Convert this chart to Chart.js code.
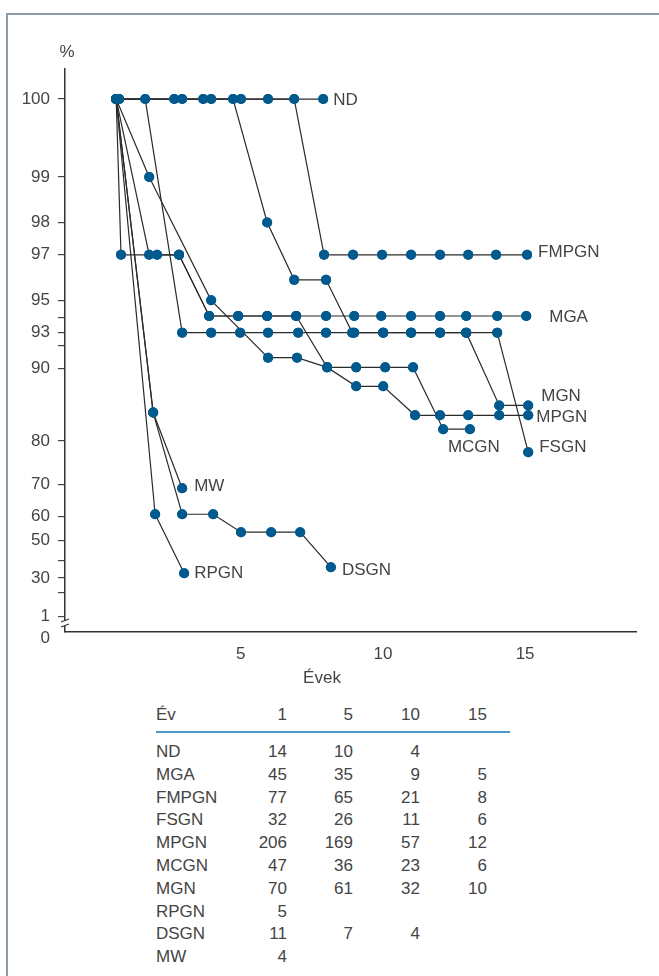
<!DOCTYPE html>
<html><head><meta charset="utf-8">
<script src="https://cdn.jsdelivr.net/npm/chart.js@4/dist/chart.umd.min.js"></script>
<style>
html,body{margin:0;padding:0;background:#fff;overflow:hidden;width:659px;height:976px;}
#frame{position:absolute;left:6px;top:13px;width:800px;height:1100px;border-left:2px solid #8d9ca6;border-top:2px solid #8d9ca6;}
#c{position:absolute;left:0;top:0;}
.t{position:absolute;font-family:'Liberation Sans',Arial,sans-serif;font-size:17px;color:#444;line-height:20px;white-space:nowrap;}
.r{text-align:right;width:100px;}
#rule{position:absolute;left:156px;top:731px;width:354px;height:2px;background:#4a98c9;}
</style></head><body>
<div id="frame"></div>
<canvas id="c" width="659" height="700"></canvas>
<div id="rule"></div>
<script>
// ---------- data (years, survival %) ----------
const SERIES_NAMES = ['ND','FMPGN','MGA','MCGN','MPGN','FSGN','MGN','RPGN','MW','DSGN'];
const ND    = [[0.72,100],[2.66,100],[3.68,100],[5.01,100],[5.96,100],[7.90,100]];
const FMPGN = [[0.62,100],[2.94,100],[3.96,100],[6.88,100],[7.93,97],[8.95,97],[9.97,97],[10.99,97],[12.01,97],[13.00,97],[13.98,97],[15.07,97]];
const MGA   = [[0.62,100],[0.79,97],[2.06,97],[2.83,97],[3.89,94.1],[4.91,94.1],[5.93,94.1],[6.95,94.1],[8.00,94.1],[8.99,94.1],[9.94,94.1],[10.99,94.1],[12.01,94.1],[12.93,94.1],[14.02,94.1],[15.04,94.1]];
const MCGN  = [[0.62,100],[1.78,97],[2.83,97],[3.89,94.1],[4.91,94.1],[5.93,94.1],[6.95,94.1],[8.04,90.1],[9.06,90.1],[10.08,90.1],[11.06,90.1],[12.12,82.1],[13.06,82.1]];
const MPGN  = [[0.62,100],[1.78,99],[3.96,95],[5.96,91],[6.98,91],[8.04,90.1],[9.06,88.1],[10.01,88.1],[11.13,84.3],[12.01,84.3],[13.00,84.3],[14.09,84.3],[15.11,84.3]];
const FSGN  = [[0.62,100],[1.64,100],[2.94,93],[3.96,93],[4.98,93],[5.96,93],[7.02,93],[8.00,93],[8.99,93],[10.01,93],[10.99,93],[12.01,93],[12.93,93],[14.02,93],[15.11,77.8]];
const MGN   = [[0.72,100],[4.73,100],[5.93,98],[6.88,96],[8.00,96],[8.92,93],[10.01,93],[10.99,93],[12.01,93],[12.93,93],[14.09,85.7],[15.11,85.7]];
const RPGN  = [[0.62,100],[1.99,60.7],[3.01,32.8]];
const MW    = [[0.62,100],[1.92,84.7],[2.94,69]];
const DSGN  = [[0.62,100],[1.92,84.7],[2.94,60.7],[4.03,60.7],[5.01,53.7],[6.07,53.7],[7.09,53.7],[8.17,36.4]];
const SERIES = [ND,FMPGN,MGA,MCGN,MPGN,FSGN,MGN,RPGN,MW,DSGN];

const X_TICKS = [5,10,15];
const Y_TICKS = [1,20,30,40,50,60,70,80,90,92,93,94,95,97,98,99,100];
const Y_LABELED = [1,30,50,60,70,80,90,93,95,97,98,99,100];

// table: patients at risk
const TABLE_HEAD = ['Év','1','5','10','15'];
const TABLE_ROWS = ['ND','MGA','FMPGN','FSGN','MPGN','MCGN','MGN','RPGN','DSGN','MW'];
const AT_RISK = [[14,10,4,null],[45,35,9,5],[77,65,21,8],[32,26,11,6],[206,169,57,12],[47,36,23,6],[70,61,32,10],[5,null,null,null],[11,7,4,null],[4,null,null,null]];

// ---------- styling ----------
const FONT_FAMILY = "'Liberation Sans', Arial, sans-serif";
const TEXT = '#444';
const DOT = '#005a8d';
const LABEL_OFFSETS = {ND:[10,1.5],FMPGN:[11,-2],MGA:[23,1],MGN:[13,-9.5],MPGN:[8,2],FSGN:[11,-5],MCGN:[-22,18],DSGN:[11,3],MW:[12,-2],RPGN:[10,0]};

// survival scale: log of (101 - value), reversed
const T = v => -Math.log10(101 - v);
class SurvivalScale extends Chart.LinearScale {
  static id = 'survival';
  static defaults = {};
  buildTicks() { return Y_TICKS.map(v => ({ value: v })); }
  configure() {
    super.configure();
    this._t0 = T(this.min); this._t1 = T(this.max);
  }
  getPixelForValue(value) {
    return this.getPixelForDecimal((T(value) - this._t0) / (this._t1 - this._t0));
  }
  getValueForPixel(pixel) {
    const d = this.getDecimalForPixel(pixel);
    return 101 - Math.pow(10, -(this._t0 + d * (this._t1 - this._t0)));
  }
}
Chart.register(SurvivalScale);

const pointsOnTop = {
  id: 'pointsOnTop',
  afterDatasetsDraw(chart) {
    const ctx = chart.ctx;
    chart.getSortedVisibleDatasetMetas().forEach(meta => meta.data.forEach(pt => pt.draw(ctx, chart.chartArea)));
  }
};
const extras = {
  id: 'extras',
  afterDraw(chart) {
    const ctx = chart.ctx;
    ctx.save();
    ctx.font = '17px ' + FONT_FAMILY;
    ctx.fillStyle = TEXT;
    ctx.textBaseline = 'middle';
    SERIES_NAMES.forEach((n, i) => {
      const meta = chart.getDatasetMeta(i);
      const last = meta.data[meta.data.length - 1];
      const [dx, dy] = LABEL_OFFSETS[n];
      ctx.textAlign = 'left';
      ctx.fillText(n, last.x + dx, last.y + dy);
    });
    ctx.textAlign = 'center';
    ctx.fillText('%', 67, 52);
    ctx.fillText('Évek', 322, 678);
    ctx.textAlign = 'right';
    ctx.fillText('0', 50, 638);
    // axis break
    const ax = chart.scales.y.right;
    ctx.fillStyle = '#fff';
    ctx.fillRect(ax - 3, 621, 6, 5);
    ctx.strokeStyle = '#333';
    ctx.lineWidth = 1.2;
    ctx.beginPath();
    ctx.moveTo(ax - 4, 622); ctx.lineTo(ax + 4, 619);
    ctx.moveTo(ax - 4, 627); ctx.lineTo(ax + 4, 624);
    ctx.stroke();
    ctx.restore();
  }
};

const font = { family: FONT_FAMILY, size: 17 };
new Chart(document.getElementById('c'), {
  type: 'line',
  data: {
    datasets: SERIES.map((s, i) => ({
      label: SERIES_NAMES[i],
      data: s.map(([x, y]) => ({ x, y })),
      borderColor: '#2b2b2b', borderWidth: 1.2,
      pointRadius: 5, pointHoverRadius: 5, pointBorderWidth: 0,
      pointBackgroundColor: DOT, tension: 0, fill: false
    }))
  },
  options: {
    responsive: false, animation: false, devicePixelRatio: 1,
    layout: { padding: { left: 0, top: 69, right: 23, bottom: 0 } },
    plugins: { legend: { display: false }, tooltip: { enabled: false } },
    scales: {
      x: {
        type: 'linear', min: -1.18, max: 18.9,
        afterBuildTicks: s => { s.ticks = X_TICKS.map(v => ({ value: v })); },
        ticks: { font, color: TEXT, padding: 12, autoSkip: false, maxRotation: 0 },
        grid: { display: false, drawTicks: false },
        border: { display: true, color: '#333', width: 1.5 },
        afterFit: s => { s.height = 68; }
      },
      y: {
        type: 'survival', min: -14, max: 100.235,
        ticks: { autoSkip: false, font, color: TEXT, padding: 8,
          callback: v => Y_LABELED.includes(v) ? String(v) : '' },
        grid: { drawOnChartArea: false, drawTicks: true, tickLength: 7, color: '#444', lineWidth: 1.2 },
        border: { display: true, color: '#333', width: 1.5 },
        afterFit: s => { s.width = 65; }
      }
    }
  },
  plugins: [pointsOnTop, extras]
});

// ---------- table ----------
const COL_LEFT = 156;
const COL_RIGHT = [287, 353, 420, 487];
function addText(txt, x, yCenter, right) {
  const d = document.createElement('div');
  d.className = 't' + (right ? ' r' : '');
  d.textContent = txt;
  d.style.top = (yCenter - 10) + 'px';
  d.style.left = (right ? x - 100 : x) + 'px';
  document.body.appendChild(d);
}
addText(TABLE_HEAD[0], COL_LEFT, 715, false);
TABLE_HEAD.slice(1).forEach((h, j) => addText(h, COL_RIGHT[j], 715, true));
TABLE_ROWS.forEach((name, i) => {
  const y = 752 + i * 22.8;
  addText(name, COL_LEFT, y, false);
  AT_RISK[i].forEach((v, j) => { if (v !== null) addText(String(v), COL_RIGHT[j], y, true); });
});
</script></body></html>
